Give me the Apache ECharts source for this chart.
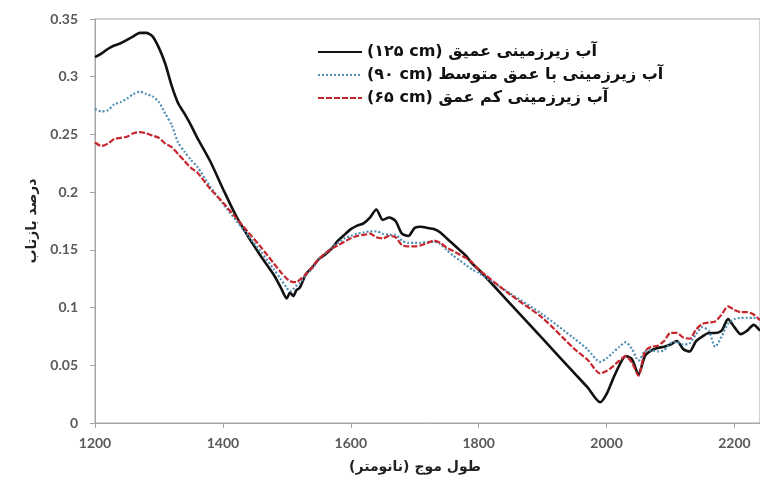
<!DOCTYPE html>
<html>
<head>
<meta charset="utf-8">
<script src="https://cdn.jsdelivr.net/npm/echarts@6/dist/echarts.min.js"></script>
<style>html,body{margin:0;padding:0;background:#fff;}#c{width:760px;height:492px;}</style>
</head>
<body>
<div id="c"></div>
<script>
const wavelengths = [1200,1210,1220,1230,1240,1250,1260,1270,1280,1290,1300,1310,1320,1330,1340,1350,1360,1380,1400,1420,1440,1460,1480,1490,1500,1505,1510,1515,1520,1530,1540,1550,1560,1570,1580,1590,1600,1610,1620,1630,1640,1650,1660,1670,1680,1690,1700,1710,1720,1730,1740,1750,1760,1770,1780,1790,1800,1850,1900,1950,1970,1990,2000,2010,2020,2030,2040,2050,2060,2070,2080,2090,2100,2110,2120,2130,2140,2150,2160,2170,2180,2190,2200,2210,2220,2230,2240];
const deep125 = [0.317,0.320,0.324,0.327,0.329,0.332,0.335,0.338,0.338,0.335,0.325,0.311,0.292,0.277,0.268,0.258,0.247,0.227,0.203,0.180,0.161,0.144,0.128,0.118,0.108,0.113,0.110,0.115,0.117,0.129,0.135,0.142,0.146,0.151,0.158,0.163,0.168,0.171,0.173,0.178,0.185,0.176,0.178,0.175,0.164,0.162,0.169,0.170,0.169,0.168,0.165,0.160,0.155,0.150,0.145,0.138,0.133,0.103,0.073,0.043,0.031,0.018,0.025,0.038,0.050,0.058,0.055,0.042,0.058,0.063,0.065,0.066,0.068,0.071,0.064,0.062,0.071,0.075,0.078,0.078,0.080,0.090,0.083,0.077,0.080,0.085,0.080];
const medium90 = [0.272,0.270,0.271,0.276,0.278,0.281,0.285,0.287,0.285,0.283,0.278,0.268,0.258,0.243,0.235,0.228,0.222,0.205,0.190,0.176,0.162,0.148,0.133,0.125,0.117,0.114,0.116,0.119,0.121,0.128,0.134,0.142,0.147,0.152,0.156,0.160,0.162,0.164,0.165,0.166,0.166,0.164,0.163,0.163,0.158,0.156,0.156,0.156,0.157,0.157,0.155,0.150,0.145,0.141,0.137,0.133,0.130,0.112,0.094,0.073,0.064,0.053,0.056,0.061,0.066,0.070,0.064,0.054,0.062,0.063,0.062,0.063,0.069,0.070,0.068,0.069,0.077,0.083,0.080,0.066,0.075,0.086,0.090,0.091,0.091,0.091,0.090];
const shallow65 = [0.243,0.240,0.242,0.246,0.247,0.248,0.251,0.252,0.251,0.249,0.247,0.242,0.239,0.233,0.227,0.221,0.217,0.203,0.191,0.178,0.165,0.152,0.138,0.131,0.125,0.123,0.122,0.122,0.124,0.129,0.135,0.142,0.147,0.151,0.154,0.157,0.160,0.162,0.163,0.164,0.161,0.160,0.162,0.161,0.154,0.153,0.153,0.154,0.156,0.158,0.156,0.152,0.149,0.146,0.143,0.139,0.133,0.111,0.091,0.064,0.055,0.043,0.045,0.049,0.054,0.058,0.052,0.041,0.062,0.066,0.067,0.071,0.078,0.078,0.074,0.073,0.081,0.086,0.087,0.088,0.094,0.101,0.098,0.096,0.096,0.094,0.089];
const seriesNames = ['(۱۲۵ cm) آب زیرزمینی عمیق', '(۹۰ cm) آب زیرزمینی با عمق متوسط', '(۶۵ cm) آب زیرزمینی کم عمق'];
const xTitle = '\u200Fطول موج (نانومتر)\u200F';
const yTitle = 'درصد بازتاب';

function pairs(vals){ return wavelengths.map((w,i)=>[w, vals[i]]); }

const chart = echarts.init(document.getElementById('c'), null, {renderer:'canvas'});
const labelFont = {fontFamily:'Lato', fontWeight:'bold', fontSize:14, color:'#595959'};
chart.setOption({
  animation:false,
  backgroundColor:'#fff',
  grid:{left:95, top:19, right:-1, bottom:69, show:true, borderColor:'#a6a6a6', borderWidth:1},
  legend:{
    orient:'vertical', left:312, top:39, itemWidth:44, itemHeight:12, itemGap:7,
    itemStyle:{opacity:0, borderWidth:0},
    textStyle:{fontFamily:'DejaVu Sans', fontWeight:'bold', fontSize:16, color:'#111'},
    data:seriesNames
  },
  xAxis:{
    type:'value', min:1200, max:2240, interval:200,
    axisLine:{lineStyle:{color:'#a6a6a6'}},
    axisTick:{inside:false, length:5, lineStyle:{color:'#a6a6a6'}},
    splitLine:{show:false},
    axisLabel:Object.assign({margin:13, showMaxLabel:false, formatter:(v)=>String(v)}, labelFont)
  },
  yAxis:{
    type:'value', min:0, max:0.35, interval:0.05,
    name:yTitle, nameLocation:'middle', nameGap:54,
    nameTextStyle:{fontFamily:'DejaVu Sans', fontWeight:'bold', fontSize:14, color:'#222'},
    axisLine:{show:true, lineStyle:{color:'#a6a6a6'}},
    axisTick:{show:true, inside:false, length:5, lineStyle:{color:'#a6a6a6'}},
    splitLine:{show:false},
    axisLabel:Object.assign({margin:17}, labelFont)
  },
  graphic:[{type:'text', x:415, y:460, style:{text:xTitle, font:'bold 14px "DejaVu Sans"', fill:'#222', textAlign:'center'}}],
  series:[
    {name:seriesNames[0], type:'line', data:pairs(deep125), showSymbol:false, symbol:'none', smooth:0.25,
     lineStyle:{color:'#111', width:2.6, type:'solid'}, itemStyle:{color:'#111'}},
    {name:seriesNames[1], type:'line', data:pairs(medium90), showSymbol:false, symbol:'none', smooth:0.25,
     lineStyle:{color:'#4f8fb3', width:2.2, type:[2,2]}, itemStyle:{color:'#4f8fb3'}},
    {name:seriesNames[2], type:'line', data:pairs(shallow65), showSymbol:false, symbol:'none', smooth:0.25,
     lineStyle:{color:'#c8262d', width:2.2, type:[6,2]}, itemStyle:{color:'#c8262d'}}
  ]
});
</script>
</body>
</html>
